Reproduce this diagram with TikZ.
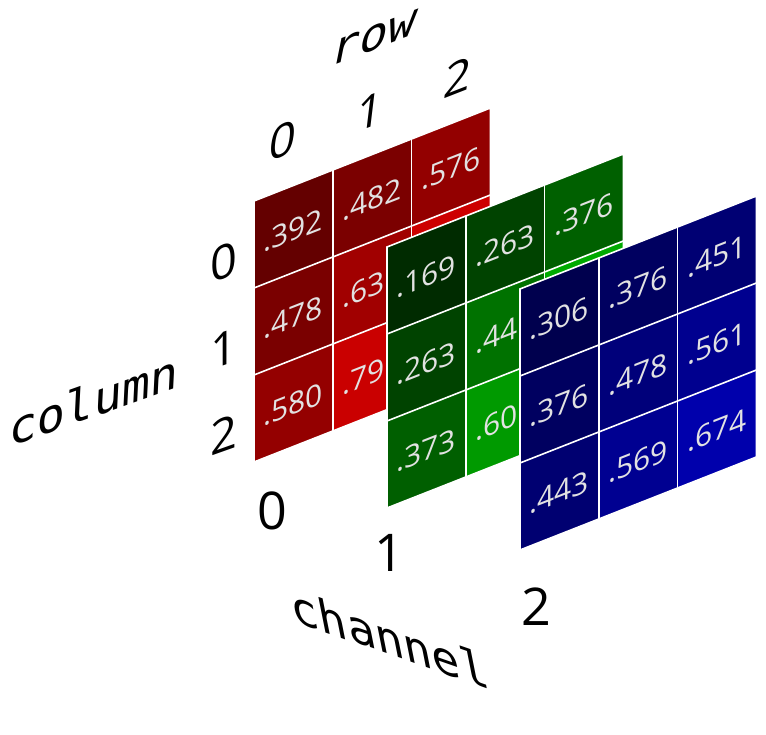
\documentclass[tikz,border=0pt]{standalone}
\usepackage{fontspec}
\setmainfont{Open Sans}
\newfontfamily\monof{DejaVu Sans Mono}
\definecolor{celltxt}{HTML}{E2E2E2}
\tikzset{
  gridline/.style={white, line width=1.6pt, line join=miter},
  celltext/.style={text=celltxt, font=\fontsize{30}{30}\selectfont, transform shape, inner sep=0pt},
  axisnum/.style={font=\fontsize{47}{47}\selectfont, inner sep=0pt},
  channum/.style={font=\fontsize{52}{52}\selectfont, inner sep=0pt},
  axislabel/.style={font=\monof\fontsize{47}{47}\selectfont, inner sep=0pt},
}
% #1 name, #2 origin, #3 colour spec with \v, #4 value/text list
\newcommand\drawslab[4]{%
 \begin{scope}[shift={#2}, yslant=0.3934]
  \foreach \v/\t [count=\i from 0] in {#4} {
    \pgfmathtruncatemacro\rr{int(\i/3)}
    \pgfmathtruncatemacro\cc{mod(\i,3)}
    \definecolor{cellc}{rgb}{#3}
    \fill[cellc] (78.8*\cc, -87*\rr) -- (78.8*\cc+78.8, -87*\rr) -- (78.8*\cc+78.8, -87*\rr-87) -- (78.8*\cc, -87*\rr-87) -- cycle;
    \node[celltext] (#1-\rr-\cc) at (78.8*\cc+39.4, -87*\rr-45) {\t};
  }
  \foreach \k in {1,2} {
    \draw[gridline] (78.8*\k, 0) -- (78.8*\k, -261);
    \draw[gridline] (0, -87*\k) -- (236.4, -87*\k);
  }
  \draw[gridline] (0,0) -- (236.4,0) -- (236.4,-261) -- (0,-261) -- cycle;
 \end{scope}}
\begin{document}
\begin{tikzpicture}[x=1pt, y=1pt]
\useasboundingbox (0,0) rectangle (766,735);
\fill[white] (0,0) rectangle (766,735);
% slabs
\drawslab{r}{(254,534)}{0.\v,0,0}{392/.392, 482/.482, 576/.576, 478/.478, 631/{.63\phantom{1}}, 804/{}, 580/.580, 792/{.79\phantom{2}}, 894/{}}
\drawslab{g}{(387,488)}{0,0.\v,0}{169/.169, 263/.263, 376/.376, 263/.263, 447/{.44\phantom{7}}, 667/{}, 373/.373, 604/{.60\phantom{4}}, 780/{}}
\drawslab{b}{(520,446)}{0,0,0.\v}{306/.306, 376/.376, 451/.451, 376/.376, 478/.478, 561/.561, 443/.443, 569/.569, 674/.674}
% row axis
\node[axislabel, cm={1,0.39,0.2,1,(0,0)}] (rowlbl) at (374,697) {row};
\node[axisnum, cm={1,0.39,0.12,1,(0,0)}] (row0) at (283,595) {0};
\node[axisnum, cm={1,0.39,0.12,1,(0,0)}] (row1) at (370,624) {1};
\node[axisnum, cm={1,0.39,0.12,1,(0,0)}] (row2) at (458,658) {2};
% column axis
\node[axislabel, cm={1,0.355,0.05,1,(0,0)}] (collbl) at (94,335) {column};
\node[axisnum, cm={1,0.355,0,1,(0,0)}] (col0) at (224,473) {0};
\node[axisnum, cm={1,0.355,0,1,(0,0)}] (col1) at (224,386) {1};
\node[axisnum, cm={1,0.355,0,1,(0,0)}] (col2) at (224,300) {2};
% channel axis
\node[axislabel, cm={1,-0.347,-0.2,1,(0,0)}] (chlbl) at (389,97) {channel};
\node[channum] (ch0) at (272,224) {0};
\node[channum] (ch1) at (389,182) {1};
\node[channum] (ch2) at (536,128) {2};
\end{tikzpicture}
\end{document}
